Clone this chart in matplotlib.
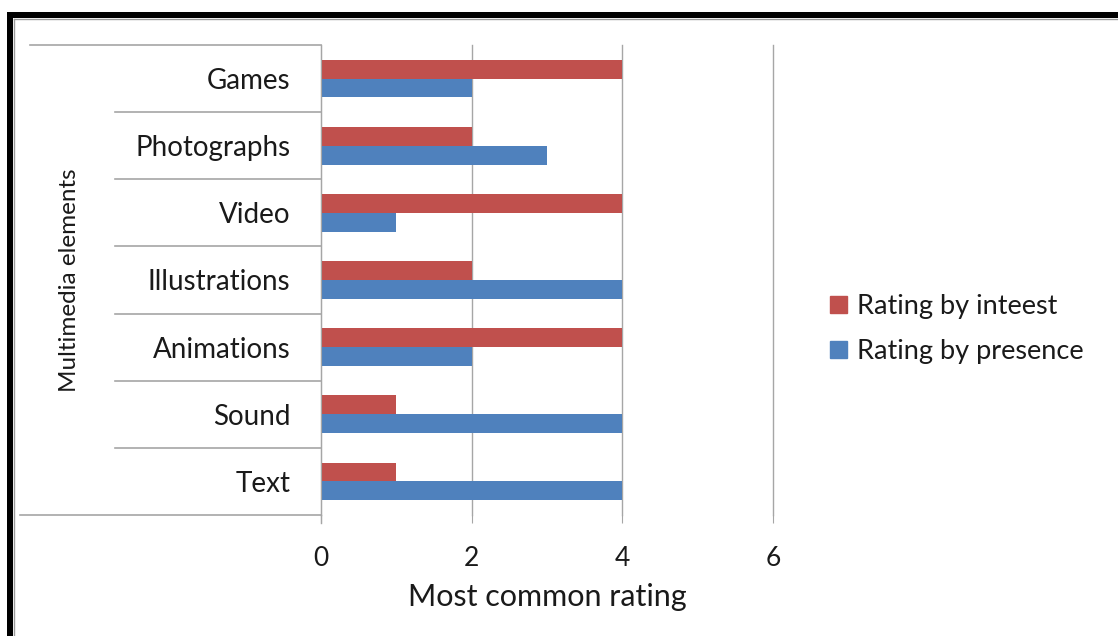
import matplotlib
matplotlib.use("Agg")
import matplotlib.pyplot as plt
import matplotlib.transforms as mtransforms
from matplotlib.lines import Line2D
from matplotlib.patches import Rectangle
import numpy as np

plt.rcParams["font.family"] = ["Lato", "DejaVu Sans"]

categories = ["Text", "Sound", "Animations", "Illustrations", "Video", "Photographs", "Games"]
interest = [1, 1, 4, 2, 4, 2, 4]
presence = [4, 4, 2, 4, 1, 3, 2]
series_names = ["Rating by inteest", "Rating by presence"]
xticks = [0, 2, 4, 6]

RED = "#C0504D"
BLUE = "#4F81BD"
GRID = "#A6A6A6"
TXT = "#1a1a1a"

W, H = 1118, 636
fig = plt.figure(figsize=(W / 100, H / 100), dpi=100)
ax = fig.add_axes([321 / W, 1 - 515 / H, (773 - 321) / W, (515 - 45) / H])

y = np.arange(len(categories))
bh = 0.28
ax.barh(y - bh / 2, presence, height=bh, color=BLUE, label=series_names[1])
ax.barh(y + bh / 2, interest, height=bh, color=RED, label=series_names[0])

ax.set_xlim(0, 6)
ax.set_ylim(-0.5, len(categories) - 0.5)
ax.set_xticks(xticks)
ax.set_xticklabels([str(t) for t in xticks], fontsize=19, color=TXT)
ax.tick_params(axis="x", length=6, color=GRID, pad=16)
ax.set_yticks(y)
ax.set_yticklabels(categories, fontsize=20, color=TXT)
ax.tick_params(axis="y", length=0, pad=22)
ax.xaxis.grid(True, color=GRID, linewidth=1)
for gl in ax.get_xgridlines():
    gl.set_clip_on(False)
ax.set_axisbelow(True)

for side in ["top", "right", "bottom"]:
    ax.spines[side].set_visible(False)
ax.spines["left"].set_color(GRID)

ax.set_xlabel("Most common rating", fontsize=22, color=TXT, labelpad=9)
fig.text(70 / W, 1 - 280 / H, "Multimedia elements", rotation=90,
         fontsize=17.5, color=TXT, ha="center", va="center")

# category box lines running left from the value axis
trans = mtransforms.blended_transform_factory(fig.transFigure, ax.transData)
edges = np.arange(len(categories) + 1) - 0.5
for i, e in enumerate(edges):
    if i == 0:
        x0 = 20 / W
    elif i == len(edges) - 1:
        x0 = 30 / W
    else:
        x0 = 115 / W
    fig.add_artist(Line2D([x0, 321 / W], [e, e], transform=trans,
                          color=GRID, linewidth=1.2))

# left axis line extends down to tick length
ax.plot([0, 0], [-0.5, -0.62], color=GRID, linewidth=1, clip_on=False)

handles = [Rectangle((0, 0), 1, 1, color=RED), Rectangle((0, 0), 1, 1, color=BLUE)]
fig.legend(handles, series_names, loc="center left",
           bbox_to_anchor=(806 / W, 1 - 329 / H), frameon=False,
           fontsize=19.5, handlelength=0.6, handleheight=0.6,
           handletextpad=0.4, labelspacing=0.75, labelcolor=TXT)

# frame border along the top and left
fig.add_artist(Rectangle((7 / W, 0), 6 / W, 1 - 12 / H, transform=fig.transFigure,
                         color="black", linewidth=0))
fig.add_artist(Rectangle((7 / W, 1 - 18 / H), 1 - 7 / W, 6 / H, transform=fig.transFigure,
                         color="black", linewidth=0))
fig.add_artist(Line2D([14 / W, 14 / W], [0, 1 - 19 / H], transform=fig.transFigure,
                      color="#9a9a9a", linewidth=1))
fig.add_artist(Line2D([14 / W, 1], [1 - 19 / H, 1 - 19 / H], transform=fig.transFigure,
                      color="#9a9a9a", linewidth=1))

fig.savefig("out.png", dpi=100)
